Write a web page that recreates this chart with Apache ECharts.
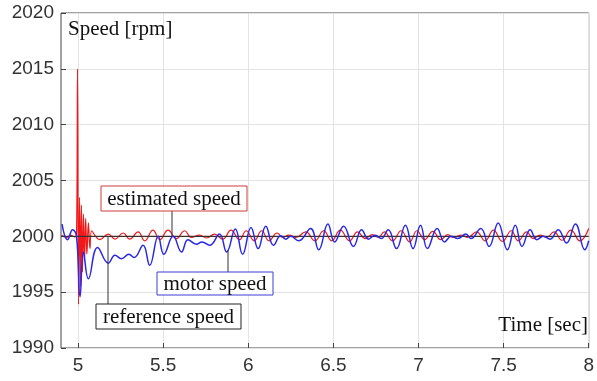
<!DOCTYPE html>
<html><head><meta charset="utf-8">
<script src="https://cdn.jsdelivr.net/npm/echarts@6/dist/echarts.min.js"></script>
<style>html,body{margin:0;padding:0;background:#fff}#c{width:597px;height:381px}</style>
</head><body><div id="c"></div>
<script>
// Tick labels
const xTicks = [5, 5.5, 6, 6.5, 7, 7.5, 8];
const yTicks = [1990, 1995, 2000, 2005, 2010, 2015, 2020];

// Reference speed [time, rpm]
const refTime = [4.9, 8.0];
const refSpeed = [2000, 2000];

// Motor speed (blue) [time], [rpm]
const motorTime = [4.906,4.939,4.968,4.991,5.012,5.032,5.061,5.115,5.178,5.217,5.255,5.299,5.329,5.382,5.421,5.471,5.504,5.559,5.608,5.646,5.695,5.728,5.773,5.831,5.873,5.924,5.967,6.016,6.058,6.103,6.148,6.191,6.220,6.249,6.297,6.366,6.414,6.468,6.507,6.560,6.618,6.666,6.706,6.746,6.781,6.822,6.871,6.923,6.968,7.012,7.052,7.110,7.153,7.192,7.231,7.279,7.308,7.366,7.415,7.468,7.522,7.569,7.608,7.656,7.695,7.734,7.773,7.821,7.870,7.922,7.977,8.0];
const motorSpeed = [2001.1,1999.7,2000.6,2000.0,1994.6,1998.6,1996.2,1999.0,1997.6,1998.3,1998.0,1998.4,1998.1,1999.2,1997.4,2000.0,1998.4,2000.0,1998.6,1999.7,1999.3,1999.5,1999.2,2000.2,1998.6,2000.65,1998.4,2000.8,1998.9,2000.9,1999.2,2000.05,1999.75,2000.0,1999.6,2000.7,1998.8,2001.1,1999.5,2000.9,1999.1,2000.6,1999.75,2000.1,1999.8,2000.6,1998.9,2001.0,1998.9,2001.0,1998.9,2000.7,1999.5,2000.0,1999.8,2000.2,1999.8,2000.7,1999.1,2001.2,1998.8,2001.0,1999.1,2000.6,1999.7,2000.0,1999.75,2000.6,1999.4,2001.1,1998.8,1999.6];

// Estimated speed (red) [time], [rpm]
const estTime = [4.904,4.933,4.956,4.980,4.991,4.997,5.003,5.009,5.015,5.020,5.026,5.032,5.038,5.045,5.052,5.061,5.070,5.080,5.129,5.178,5.217,5.265,5.304,5.353,5.392,5.440,5.481,5.529,5.578,5.627,5.666,5.714,5.755,5.802,5.850,5.899,5.948,5.988,6.035,6.079,6.122,6.169,6.204,6.239,6.280,6.338,6.391,6.443,6.490,6.541,6.595,6.642,6.688,6.729,6.764,6.799,6.848,6.898,6.948,6.991,7.036,7.084,7.131,7.172,7.204,7.253,7.289,7.341,7.391,7.440,7.493,7.545,7.586,7.636,7.674,7.714,7.752,7.796,7.843,7.895,7.948,8.0];
const estSpeed = [2000.1,1999.9,2000.1,1999.95,2000.0,2015.0,1993.9,2003.5,1995.5,2002.8,1996.8,2002.0,1997.8,2001.6,1998.4,2001.2,1998.9,2000.5,1999.7,2000.2,1999.75,2000.3,1999.75,2000.4,1999.6,2000.55,1999.7,2000.55,1999.8,2000.5,1999.9,2000.1,1999.85,2000.2,1999.75,2000.55,1999.7,2000.5,1999.6,2000.5,1999.6,2000.3,1999.9,2000.1,1999.9,2000.4,1999.6,2000.5,1999.6,2000.55,1999.6,2000.4,1999.8,2000.15,1999.9,2000.4,1999.6,2000.5,1999.5,2000.5,1999.7,2000.45,1999.7,2000.15,1999.9,2000.1,1999.9,2000.4,1999.6,2000.55,1999.55,2000.5,1999.6,2000.4,1999.8,2000.1,1999.9,2000.4,1999.65,2000.55,1999.6,2000.7];

const zip = (a, b) => a.map((v, i) => [v, b[i]]);

const chart = echarts.init(document.getElementById('c'), null, {renderer: 'canvas'});
const serif = '"Liberation Serif", "Times New Roman", serif';
const sans = '"Liberation Sans", Arial, sans-serif';

function box(x, y, w, h, text, border, lx, ly1, ly2) {
  return [
    {type: 'line', shape: {x1: lx, y1: ly1, x2: lx, y2: ly2}, style: {stroke: '#333', lineWidth: 1}, z: 100},
    {type: 'rect', shape: {x: x, y: y, width: w, height: h}, style: {fill: '#fff', stroke: border, lineWidth: 1}, z: 101},
    {type: 'text', x: x + w / 2, y: y + h / 2 + 1, style: {text: text, font: '21px ' + serif, fill: '#111', align: 'center', verticalAlign: 'middle'}, z: 102}
  ];
}

chart.setOption({
  animation: false,
  backgroundColor: '#fff',
  grid: {left: 61, right: 5.5, top: 13, bottom: 33, show: true, borderColor: '#444', borderWidth: 1, backgroundColor: 'transparent'},
  xAxis: {
    type: 'value', min: 4.9, max: 8,
    axisLine: {show: false},
    axisTick: {show: true, inside: true, length: 5, lineStyle: {color: '#444'}, customValues: xTicks},
    axisLabel: {customValues: xTicks, color: '#333', fontSize: 19, fontFamily: sans, margin: 8, formatter: v => String(v)},
    splitLine: {show: true, lineStyle: {color: '#e3e3e3', width: 1}}
  },
  yAxis: {
    type: 'value', min: 1990, max: 2020, interval: 5,
    axisLine: {show: false},
    axisTick: {show: true, inside: true, length: 5, lineStyle: {color: '#444'}},
    axisLabel: {color: '#333', fontSize: 19, fontFamily: sans, margin: 7, formatter: v => String(v)},
    splitLine: {show: true, lineStyle: {color: '#e3e3e3', width: 1}}
  },
  series: [
    {name: 'estimated speed', type: 'line', data: zip(estTime, estSpeed), showSymbol: false, smooth: 0.45,
     lineStyle: {color: '#f01818', width: 1.2}, z: 2},
    {name: 'reference speed', type: 'line', data: zip(refTime, refSpeed), showSymbol: false,
     lineStyle: {color: '#3a3030', width: 1.3}, z: 3},
    {name: 'motor speed', type: 'line', data: zip(motorTime, motorSpeed), showSymbol: false, smooth: 0.45,
     lineStyle: {color: '#2828e6', width: 1.5}, z: 4}
  ],
  graphic: [
    {type: 'text', left: 68, top: 19, style: {text: 'Speed [rpm]', font: '21px ' + serif, fill: '#111'}, z: 100},
    {type: 'text', right: 9, top: 315, style: {text: 'Time [sec]', font: '21px ' + serif, fill: '#111'}, z: 100},
    ...box(101, 186, 146, 25, 'estimated speed', '#d23c3c', 172, 211, 236),
    ...box(157, 272, 116, 23, 'motor speed', '#3c3cd2', 228, 250, 272),
    ...box(96, 304, 145, 25, 'reference speed', '#222', 108, 236, 304)
  ]
});
</script></body></html>
